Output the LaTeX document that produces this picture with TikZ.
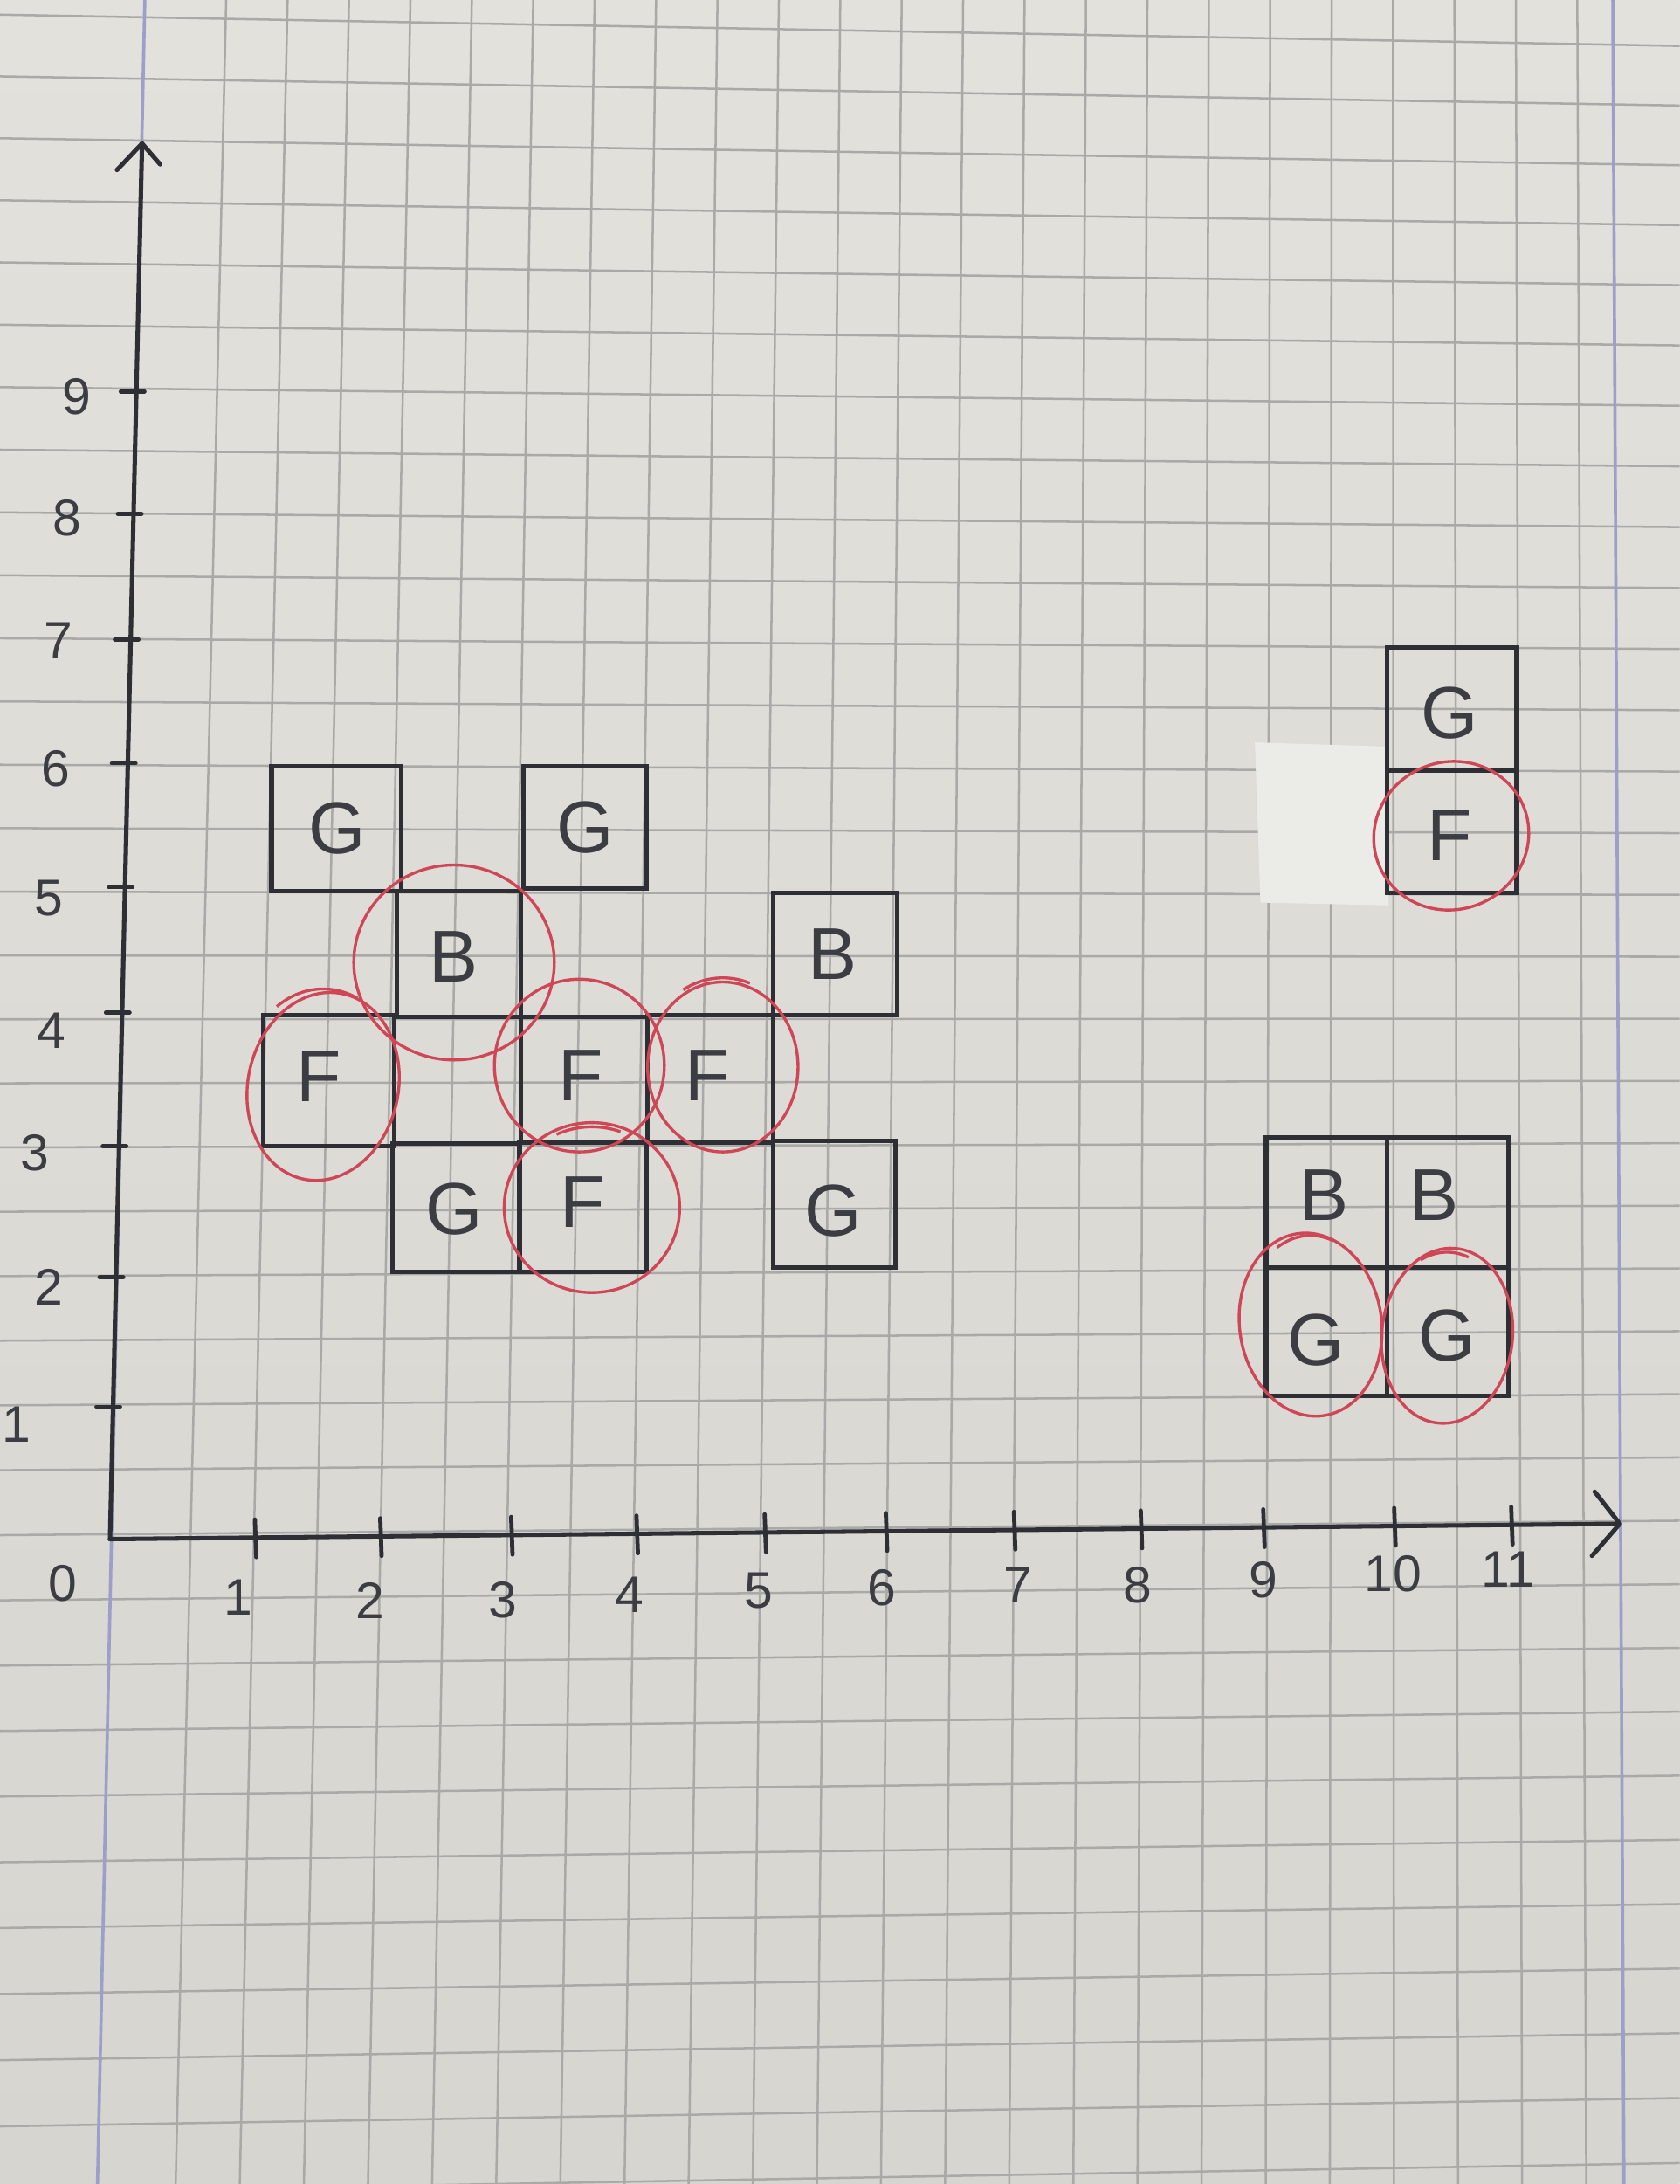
\documentclass[tikz,border=0pt]{standalone}
\usepackage{fontspec}
\setmainfont{Liberation Sans}
\usetikzlibrary{fit}
\definecolor{paperT}{HTML}{E2E1DC}
\definecolor{paperB}{HTML}{D6D5D0}
\definecolor{gridc}{HTML}{A9A9A7}
\definecolor{marginc}{HTML}{9C9FC9}
\definecolor{inkc}{HTML}{2E2F35}
\definecolor{textc}{HTML}{3C3D43}
\definecolor{redc}{HTML}{CF4657}
\definecolor{patchc}{HTML}{EBEBE7}
\tikzset{
  gridline/.style={draw=gridc, line width=0.9pt},
  marginline/.style={draw=marginc, line width=1.3pt},
  axisline/.style={draw=inkc, line width=1.8pt, line cap=round, line join=round},
  tickmark/.style={draw=inkc, line width=1.7pt, line cap=round},
  cell/.style={draw=inkc, line width=1.9pt, inner sep=0pt},
  lbl/.style={text=textc, inner sep=0pt, font=\fontsize{30}{30}\selectfont},
  num/.style={text=textc, inner sep=0pt, font=\fontsize{21}{21}\selectfont},
  redpen/.style={draw=redc, line width=1.2pt},
}
\begin{document}
\begin{tikzpicture}[x=0.02cm,y=-0.02cm]
\useasboundingbox (0,0) rectangle (1206,1568);
% paper
\shade[top color=paperT,bottom color=paperB] (0,0) rectangle (1206,1568);
% grid (slightly in perspective)
\foreach \i in {1,...,23}{
  \pgfmathsetmacro\tx{161+44.17*(\i-1)}
  \pgfmathsetmacro\bx{130+45.83*(\i-1)}
  \pgfmathsetmacro\xa{\tx-(\bx-\tx)/1340*60}
  \pgfmathsetmacro\xb{\tx+(\bx-\tx)/1340*1508}
  \draw[gridline] (\xa,0) -- (\xb,1568);
}
\foreach \j in {0,...,34}{
  \pgfmathsetmacro\ly{10.5+44.27*\j+0.0507*\j*\j}
  \pgfmathsetmacro\ry{33+42.71*\j+0.0586*\j*\j}
  \draw[gridline] (0,\ly) -- (1206,\ry);
}
% margin lines
\draw[marginline] (104,0) -- (70,1568);
\draw[marginline] (1158,0) -- (1166,1568);
% correction patch
\fill[patchc] (901,533) -- (997,536) -- (997,650) -- (905,648) -- cycle;

% axes
\coordinate (O) at (79,1105);
\coordinate (xend) at (1163,1094);
\coordinate (yend) at (102,103);
\draw[axisline] (O) -- (xend);
\draw[axisline] (O) -- (yend);
\draw[axisline] (1145,1071) -- (xend) -- (1143,1117);
\draw[axisline] (84,122) -- (yend) -- (115,118);

% x ticks and labels
\foreach \x/\l/\lx/\ly in {183/1/171/1147, 273/2/266/1149, 367/3/361/1149,
  457/4/452/1145, 549/5/545/1142, 636/6/633/1140, 728/7/731/1138,
  819/8/817/1138, 907/9/907/1134, 1001/10/1000/1130, 1085/11/1083/1127}{
  \pgfmathsetmacro\ay{1105-(\x-79)/1084*11}
  \draw[tickmark] ({\x},{\ay-13}) -- ({\x+1},{\ay+14});
  \node[num] (xl\l) at (\lx,\ly) {\l};
}
\node[num] (zero) at (45,1137) {0};

% y ticks and labels
\foreach \y/\l/\lx/\ly in {1010/1/12/1023, 917/2/35/924, 823/3/25/828,
  727/4/37/740, 637/5/35/645, 548/6/40/552, 459/7/42/460, 369/8/48/372,
  281/9/55/285}{
  \pgfmathsetmacro\axx{78+(1104-\y)/1001*24}
  \draw[tickmark] ({\axx-11},\y) -- ({\axx+6},\y);
  \node[num] (yl\l) at (\lx,\ly) {\l};
}

% left cluster
\node[cell, fit={(195,550) (288,640)}] (g1) {};
\node[cell, fit={(376,550) (464,638)}] (g2) {};
\node[cell, fit={(285,640) (374,730)}] (b1) {};
\node[cell, fit={(555,641) (644,729)}] (b2) {};
\node[cell, fit={(189,729) (283,823)}] (f1) {};
\node[cell, fit={(374,730) (465,820)}] (f2) {};
\node[cell, fit={(465,729) (555,820)}] (f3) {};
\node[cell, fit={(282,821) (373,913)}] (g3) {};
\node[cell, fit={(373,820) (464,913)}] (f4) {};
\node[cell, fit={(555,819) (643,910)}] (g4) {};
% right cluster
\node[cell, fit={(996,465) (1089,553)}] (g5) {};
\node[cell, fit={(996,553) (1089,641)}] (f5) {};
\node[cell, fit={(909,817) (996,910)}] (b3) {};
\node[cell, fit={(996,817) (1083,910)}] (b4) {};
\node[cell, fit={(909,910) (996,1002)}] (g6) {};
\node[cell, fit={(996,910) (1083,1002)}] (g7) {};

% letters
\node[lbl] (g1l) at (242,595) {G};
\node[lbl] (g2l) at (420,594) {G};
\node[lbl] (b1l) at (326,687) {B};
\node[lbl] (b2l) at (598,685) {B};
\node[lbl] (f1l) at (229,773) {F};
\node[lbl] (f2l) at (417,772) {F};
\node[lbl] (f3l) at (508,772) {F};
\node[lbl] (g3l) at (326,868) {G};
\node[lbl] (f4l) at (418,863) {F};
\node[lbl] (g4l) at (598,869) {G};
\node[lbl] (g5l) at (1041,512) {G};
\node[lbl] (f5l) at (1041,600) {F};
\node[lbl] (b3l) at (951,858) {B};
\node[lbl] (b4l) at (1030,858) {B};
\node[lbl] (g6l) at (945,962) {G};
\node[lbl] (g7l) at (1039,959) {G};

% red circles
\draw[redpen] (326,691) ellipse [x radius=72, y radius=70];
\draw[redpen, rotate around={-12:(232,780)}] (232,780) ellipse [x radius=54, y radius=68];
\draw[redpen] (232,780) ++(235:58 and 70) arc[start angle=235, end angle=295, x radius=58, y radius=70];
\draw[redpen] (416,765) ellipse [x radius=61, y radius=62];
\draw[redpen] (519,766) ellipse [x radius=54, y radius=61];
\draw[redpen] (519,766) ++(240:57 and 64) arc[start angle=240, end angle=290, x radius=57, y radius=64];
\draw[redpen] (425,867) ellipse [x radius=63, y radius=61];
\draw[redpen] (425,867) ++(245:60 and 58) arc[start angle=245, end angle=290, x radius=60, y radius=58];
\draw[redpen, rotate around={20:(1042,600)}] (1042,600) ellipse [x radius=56, y radius=53];
\draw[redpen, rotate around={8:(941,951)}] (941,951) ellipse [x radius=51, y radius=66];
\draw[redpen] (941,951) ++(240:48 and 64) arc[start angle=240, end angle=290, x radius=48, y radius=64];
\draw[redpen, rotate around={-6:(1039,959)}] (1039,959) ellipse [x radius=47, y radius=63];
\draw[redpen] (1039,959) ++(245:45 and 60) arc[start angle=245, end angle=290, x radius=45, y radius=60];
\end{tikzpicture}
\end{document}
